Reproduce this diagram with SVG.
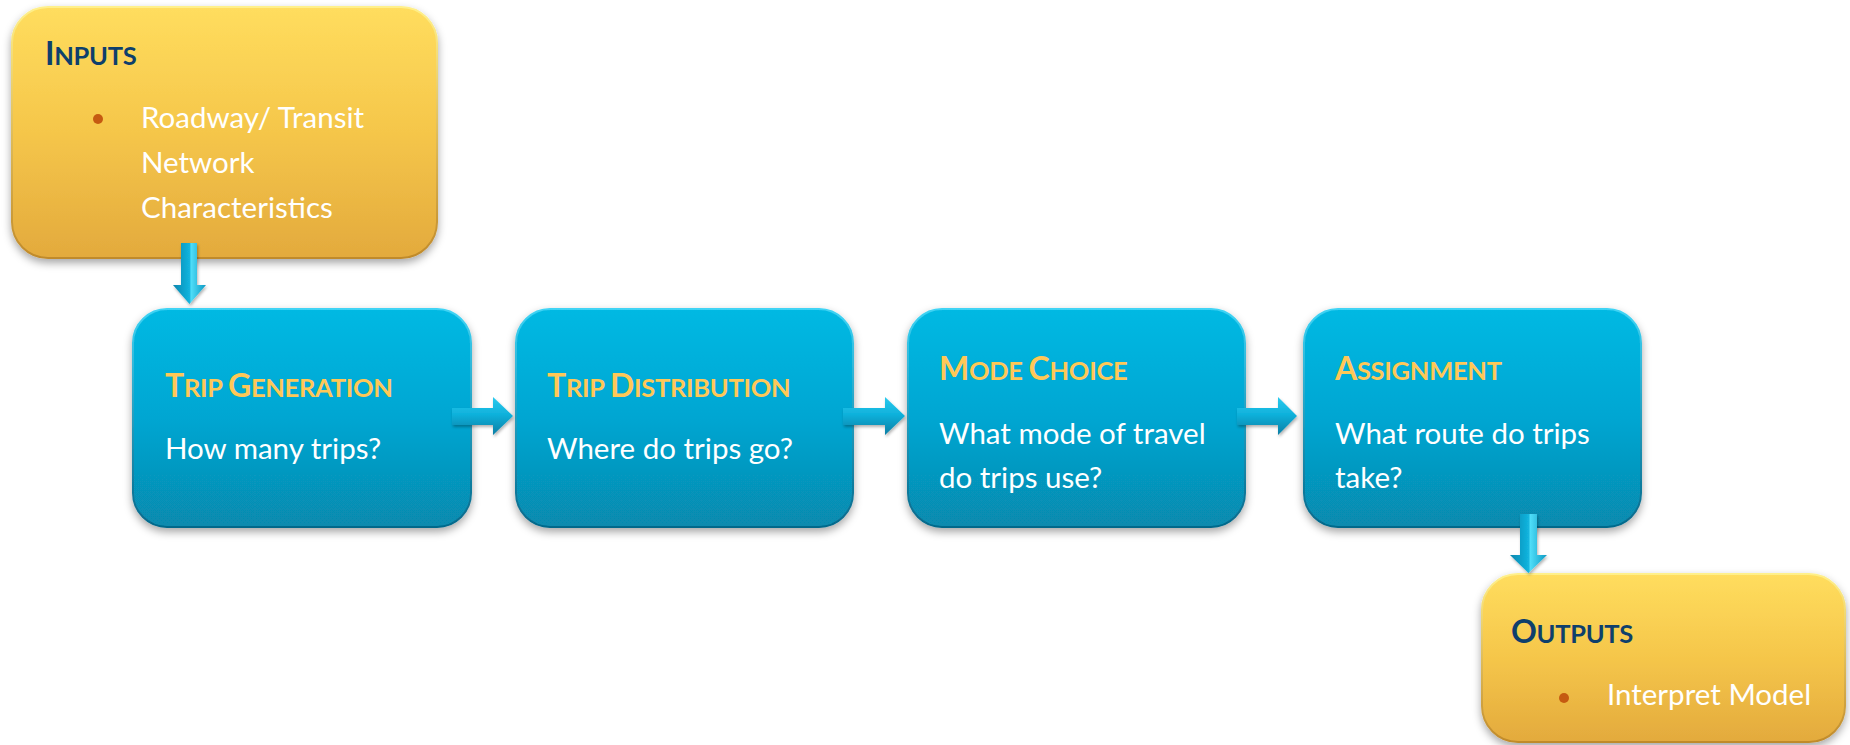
<svg xmlns="http://www.w3.org/2000/svg" width="1850" height="745" viewBox="0 0 1850 745">
<defs>
  <linearGradient id="gY" x1="0" y1="0" x2="0" y2="1">
    <stop offset="0" stop-color="#FFDD5E"/>
    <stop offset="0.5" stop-color="#F5C64A"/>
    <stop offset="1" stop-color="#E3AA3D"/>
  </linearGradient>
  <linearGradient id="gYs" x1="0" y1="0" x2="0" y2="1">
    <stop offset="0" stop-color="#FFF08A"/>
    <stop offset="1" stop-color="#C08A2A"/>
  </linearGradient>
  <linearGradient id="gB" x1="0" y1="0" x2="0" y2="1">
    <stop offset="0" stop-color="#06B9E3"/>
    <stop offset="0.5" stop-color="#05A6D2"/>
    <stop offset="1" stop-color="#078AAE"/>
  </linearGradient>
  <linearGradient id="gBs" x1="0" y1="0" x2="0" y2="1">
    <stop offset="0" stop-color="#3FD4F5"/>
    <stop offset="1" stop-color="#05688A"/>
  </linearGradient>
  <linearGradient id="gAh" x1="0" y1="0" x2="0" y2="1">
    <stop offset="0" stop-color="#2CCAEE"/>
    <stop offset="0.45" stop-color="#0FB2DC"/>
    <stop offset="1" stop-color="#0A7EA4"/>
  </linearGradient>
  <linearGradient id="gAv" x1="0" y1="0" x2="1" y2="0">
    <stop offset="0" stop-color="#0A86AE"/>
    <stop offset="0.5" stop-color="#12B4DE"/>
    <stop offset="0.55" stop-color="#4FDDF8"/>
    <stop offset="1" stop-color="#0C9AC4"/>
  </linearGradient>
  <filter id="sh" x="-10%" y="-10%" width="120%" height="130%">
    <feDropShadow dx="0" dy="4" stdDeviation="4" flood-color="#000" flood-opacity="0.35"/>
  </filter>
  <filter id="ash" x="-30%" y="-30%" width="160%" height="160%">
    <feDropShadow dx="1" dy="2" stdDeviation="1.5" flood-color="#000" flood-opacity="0.3"/>
  </filter>
</defs>
<style>
  .yb { fill: url(#gY); stroke: url(#gYs); stroke-width: 2; filter: url(#sh); }
  .bb { fill: url(#gB); stroke: url(#gBs); stroke-width: 2; filter: url(#sh); }
  .t { font-family: Lato, "Open Sans", sans-serif; font-weight: 700; letter-spacing: -0.3px; }
  .ty { fill: #0E3F6C; }
  .tb { fill: #FFC857; }
  .big { font-size: 32px; }
  .sm { font-size: 25.5px; }
  .body { font-family: Lato, "Open Sans", sans-serif; font-size: 29.5px; fill: #FFFFFF; }
  .bodyy { font-family: Lato, "Open Sans", sans-serif; font-size: 29.5px; fill: #FFFFFF; }
  .bul { fill: #C55A11; }
  .ah { fill: url(#gAh); filter: url(#ash); }
  .av { fill: url(#gAv); filter: url(#ash); }
</style>

<g id="inputs">
  <rect class="yb" x="12" y="7" width="425" height="251" rx="36" ry="36"/>
  <text class="t ty" x="45" y="65"><tspan class="big">I</tspan><tspan class="sm">NPUTS</tspan></text>
  <circle class="bul" cx="98" cy="119" r="5"/>
  <text class="bodyy" x="141" y="128">Roadway/ Transit</text>
  <text class="bodyy" x="141" y="173">Network</text>
  <text class="bodyy" x="141" y="218">Characteristics</text>
</g>

<g id="trip-generation">
  <rect class="bb" x="133" y="309" width="338" height="218" rx="34" ry="34"/>
  <text class="t tb" x="165" y="397"><tspan class="big">T</tspan><tspan class="sm">RIP </tspan><tspan class="big">G</tspan><tspan class="sm">ENERATION</tspan></text>
  <text class="body" x="165" y="459">How many trips?</text>
</g>

<g id="trip-distribution">
  <rect class="bb" x="516" y="309" width="337" height="218" rx="34" ry="34"/>
  <text class="t tb" x="547" y="397"><tspan class="big">T</tspan><tspan class="sm">RIP </tspan><tspan class="big">D</tspan><tspan class="sm">ISTRIBUTION</tspan></text>
  <text class="body" x="547" y="459">Where do trips go?</text>
</g>

<g id="mode-choice">
  <rect class="bb" x="908" y="309" width="337" height="218" rx="34" ry="34"/>
  <text class="t tb" x="939" y="380"><tspan class="big">M</tspan><tspan class="sm">ODE </tspan><tspan class="big">C</tspan><tspan class="sm">HOICE</tspan></text>
  <text class="body" x="939" y="444">What mode of travel</text>
  <text class="body" x="939" y="488">do trips use?</text>
</g>

<g id="assignment">
  <rect class="bb" x="1304" y="309" width="337" height="218" rx="34" ry="34"/>
  <text class="t tb" x="1335" y="380"><tspan class="big">A</tspan><tspan class="sm">SSIGNMENT</tspan></text>
  <text class="body" x="1335" y="444">What route do trips</text>
  <text class="body" x="1335" y="488">take?</text>
</g>

<g id="outputs">
  <rect class="yb" x="1482" y="574" width="363" height="168" rx="36" ry="36"/>
  <text class="t ty" x="1511" y="643"><tspan class="big">O</tspan><tspan class="sm">UTPUTS</tspan></text>
  <circle class="bul" cx="1564" cy="698" r="5"/>
  <text class="bodyy" x="1607" y="705">Interpret Model</text>
</g>

<g id="connectors">
  <path class="av" d="M181,243 H197 V285 H206 L189.5,304 L173,285 H181 Z"/>
  <path class="ah" d="M452,408 H493 V397 L513,416 L493,435 V425 H452 Z"/>
  <path class="ah" d="M843,408 H885 V397 L905,416 L885,435 V425 H843 Z"/>
  <path class="ah" d="M1237,408 H1278 V397 L1297,416 L1278,435 V425 H1237 Z"/>
  <path class="av" d="M1520,514 H1537 V555 H1547 L1528.5,573 L1510,555 H1520 Z"/>
</g>
</svg>
